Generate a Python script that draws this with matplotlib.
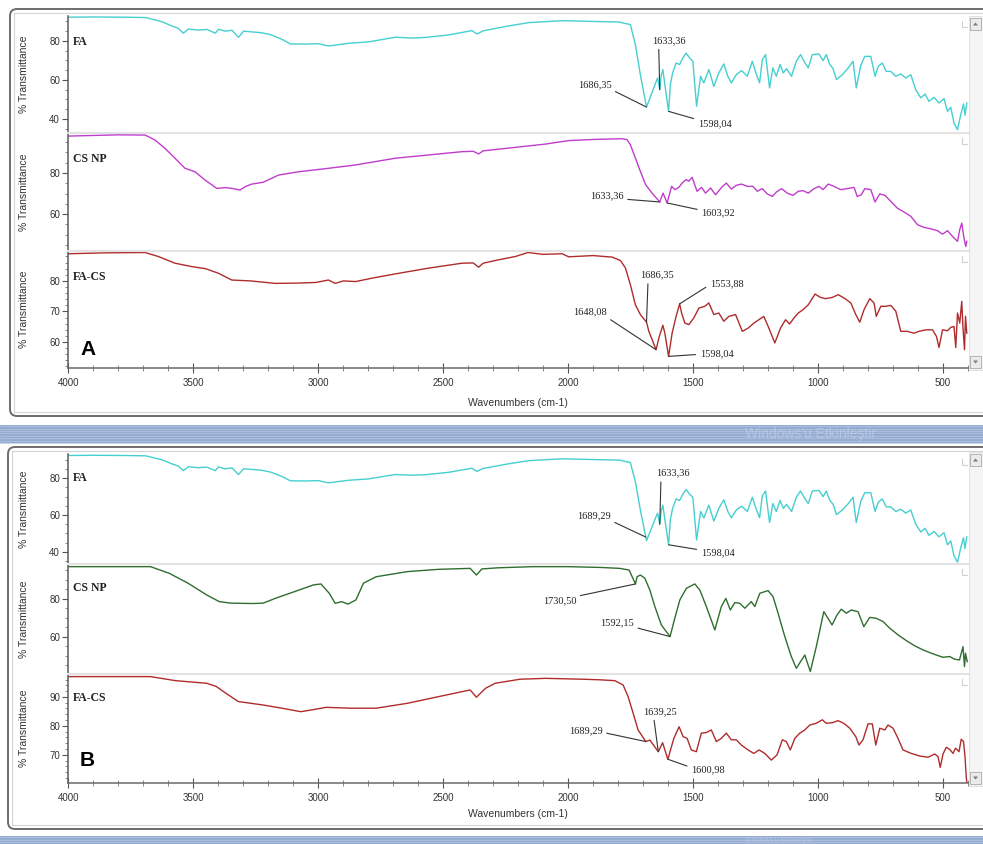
import numpy as np
import matplotlib.pyplot as plt
from matplotlib import font_manager
from matplotlib.patches import FancyBboxPatch, Rectangle, Polygon
from matplotlib.ticker import MultipleLocator, FixedLocator

# --- FTIR spectra: wavenumber (cm-1) vs % transmittance ---
# folic acid (same record used in both panels)
fa_wn = [4000, 3900, 3780, 3690, 3626, 3586, 3560, 3540, 3519, 3479,
         3445, 3412, 3399, 3372, 3345, 3319, 3299, 3260, 3226, 3190,
         3146, 3112, 3050, 3000, 2959, 2879, 2800, 2692, 2620, 2571,
         2478, 2385, 2365, 2340, 2238, 2158, 2024, 1900, 1797, 1751,
         1731, 1711, 1686.35, 1670, 1650, 1642, 1633.36, 1628, 1621, 1613,
         1598.04, 1591, 1582, 1568, 1554, 1541, 1528, 1514, 1501, 1486,
         1470, 1457, 1437, 1417, 1397, 1377, 1361, 1347, 1327, 1306,
         1283, 1263, 1250, 1234, 1223, 1210, 1194, 1181, 1167, 1152,
         1139, 1126, 1106, 1087, 1070, 1052, 1039, 1023, 996, 980,
         967, 954, 940, 926, 903, 879, 860, 847, 829, 813,
         789, 772, 759, 743, 727, 709, 689, 669, 649, 629,
         609, 589, 572, 556, 536, 516, 496, 482, 469, 456,
         442, 429, 418, 412, 405]
fa_t = [92.2, 92.3, 92.2, 92.0, 89.9, 87.7, 86.5, 84.0, 86.1, 85.6,
        85.9, 84.0, 86.0, 85.0, 85.5, 81.9, 85.0, 84.6, 84.2, 83.2,
        80.9, 78.5, 78.4, 78.6, 77.4, 78.8, 79.5, 81.9, 81.5, 81.8,
        83.1, 85.3, 83.6, 85.2, 87.7, 89.4, 90.4, 90.0, 89.7, 88.4,
        78.1, 62.7, 46.1, 51.6, 58.5, 61.0, 55.0, 61.9, 65.3, 57.6,
        43.9, 57.6, 63.6, 68.7, 67.9, 71.3, 73.8, 71.3, 69.6, 46.5,
        61.9, 58.5, 65.3, 56.7, 63.6, 68.2, 61.9, 58.5, 62.7, 64.8,
        61.9, 69.6, 64.1, 58.5, 70.4, 73.0, 55.9, 66.2, 61.9, 67.9,
        63.6, 65.8, 61.9, 69.6, 73.0, 68.7, 66.2, 73.0, 73.3, 69.9,
        73.0, 68.2, 65.8, 60.2, 62.7, 66.2, 69.6, 55.9, 67.5, 72.1,
        72.1, 61.9, 67.0, 68.7, 64.4, 64.4, 61.9, 63.1, 61.0, 62.7,
        55.0, 50.8, 52.8, 49.0, 51.1, 48.2, 50.4, 43.9, 46.0, 37.9,
        34.5, 42.2, 47.7, 41.9, 48.2]

# chitosan nanoparticles, panel A
csa_wn = [4000, 3900, 3800, 3693, 3653, 3613, 3573, 3533, 3493, 3453,
          3406, 3370, 3340, 3313, 3290, 3266, 3220, 3159, 3079, 2959,
          2852, 2692, 2558, 2425, 2380, 2358, 2340, 2211, 2091, 1998,
          1891, 1784, 1765, 1751, 1731, 1711, 1690, 1664, 1633.36, 1620,
          1603.92, 1586, 1573, 1557, 1544, 1528, 1517, 1504, 1484, 1466,
          1450, 1430, 1410, 1386, 1367, 1347, 1327, 1306, 1283, 1261,
          1243, 1223, 1203, 1183, 1167, 1146, 1123, 1100, 1079, 1060,
          1039, 1016, 996, 980, 959, 936, 910, 883, 856, 843,
          827, 813, 789, 772, 753, 732, 709, 683, 656, 629,
          602, 576, 549, 522, 502, 482, 462, 442, 433, 425,
          416, 409, 405]
csa_t = [98.0, 98.3, 98.6, 98.5, 96.1, 92.0, 87.2, 82.3, 80.6, 76.6,
         72.5, 72.9, 72.4, 71.7, 73.5, 74.6, 75.5, 79.0, 80.6, 82.3,
         83.9, 87.2, 88.8, 90.4, 90.6, 89.3, 90.8, 92.5, 94.1, 95.8,
         96.4, 96.7, 96.3, 93.8, 87.3, 80.8, 74.3, 70.2, 65.9, 70.2,
         65.4, 73.5, 71.9, 73.0, 75.1, 76.8, 76.0, 77.9, 71.1, 73.0,
         70.2, 72.7, 69.4, 73.0, 75.1, 72.2, 74.0, 74.6, 73.5, 73.5,
         71.1, 72.4, 69.8, 68.6, 70.7, 72.4, 70.2, 69.1, 71.1, 71.4,
         70.2, 72.4, 73.5, 71.9, 74.6, 73.5, 71.9, 72.4, 73.0, 68.6,
         69.4, 72.4, 71.9, 65.9, 69.8, 69.1, 66.2, 62.9, 61.0, 58.9,
         54.8, 53.5, 52.8, 51.9, 50.2, 51.9, 49.1, 46.7, 52.4, 55.6,
         48.3, 44.2, 46.7]

# folic acid loaded chitosan, panel A
faca_wn = [4000, 3850, 3693, 3640, 3573, 3506, 3450, 3399, 3346, 3270,
           3172, 3080, 3010, 2959, 2932, 2900, 2850, 2785, 2692, 2558,
           2425, 2380, 2358, 2340, 2291, 2211, 2161, 2100, 2024, 1998,
           1900, 1824, 1791, 1771, 1751, 1731, 1711, 1686.35, 1677, 1648.08,
           1637, 1621, 1613, 1598.04, 1584, 1568, 1553.88, 1546, 1533, 1517,
           1497, 1477, 1453, 1437, 1417, 1397, 1377, 1357, 1330, 1303,
           1279, 1257, 1237, 1217, 1197, 1173, 1150, 1130, 1114, 1096,
           1079, 1060, 1039, 1012, 990, 970, 943, 919, 892, 869,
           849, 833, 816, 793, 776, 767, 749, 729, 709, 689,
           669, 643, 616, 596, 569, 542, 526, 516, 502, 482,
           469, 456, 449, 442, 433, 425, 420, 414, 410, 405]
faca_t = [88.9, 89.2, 89.3, 88.0, 85.8, 84.7, 84.0, 82.5, 80.3, 80.0,
          79.2, 79.3, 79.5, 80.3, 79.2, 80.0, 79.8, 80.9, 82.3, 84.2,
          85.8, 85.9, 84.5, 85.8, 86.7, 88.0, 89.3, 88.7, 88.9, 87.9,
          88.3, 87.8, 86.7, 84.3, 78.8, 72.2, 69.0, 66.5, 63.5, 57.5,
          61.3, 65.5, 62.9, 55.3, 62.9, 68.4, 72.5, 69.5, 66.2, 65.7,
          67.9, 71.1, 71.7, 72.8, 69.0, 69.5, 66.8, 68.4, 69.0, 63.5,
          64.6, 66.2, 67.3, 68.4, 64.6, 59.7, 64.6, 67.3, 65.9, 67.9,
          69.5, 70.6, 72.2, 75.7, 74.6, 74.2, 74.6, 75.5, 74.2, 72.8,
          69.0, 66.5, 70.6, 74.2, 72.8, 68.4, 71.7, 71.7, 72.0, 70.1,
          63.5, 63.5, 62.9, 63.5, 64.0, 64.0, 61.8, 58.2, 64.0, 63.7,
          64.8, 65.1, 58.2, 69.5, 66.2, 73.3, 64.6, 57.5, 68.4, 62.9]

# chitosan nanoparticles, panel B
csb_wn = [4000, 3800, 3671, 3596, 3521, 3446, 3396, 3350, 3308, 3260,
          3220, 3170, 3094, 3019, 2989, 2956, 2932, 2906, 2881, 2849,
          2819, 2768, 2643, 2518, 2392, 2367, 2345, 2280, 2142, 2000,
          1873, 1793, 1756, 1730.50, 1724, 1711, 1693, 1673, 1653, 1627,
          1592.15, 1575, 1553, 1527, 1493, 1473, 1447, 1413, 1387, 1369,
          1351, 1333, 1313, 1293, 1267, 1253, 1233, 1200, 1180, 1160,
          1133, 1107, 1087, 1053, 1031, 1007, 977, 960, 944, 924,
          907, 887, 867, 840, 817, 793, 767, 740, 713, 680,
          647, 613, 580, 554, 527, 500, 473, 454, 434, 420,
          414, 410, 403]
csb_t = [97.0, 97.0, 97.0, 93.5, 88.3, 82.1, 78.6, 77.8, 77.7, 77.6,
         77.8, 80.4, 83.9, 87.4, 87.9, 83.0, 77.7, 78.6, 77.3, 79.5,
         88.3, 91.7, 94.4, 95.6, 96.1, 92.6, 95.8, 96.4, 97.0, 97.0,
         96.6, 96.1, 95.2, 87.9, 91.7, 92.6, 90.9, 84.7, 76.0, 66.3,
         60.2, 69.0, 79.5, 85.6, 87.9, 84.7, 76.0, 63.7, 76.0, 80.3,
         74.2, 78.1, 77.7, 75.1, 78.6, 76.0, 83.0, 84.4, 81.2, 72.5,
         60.2, 49.7, 43.5, 50.5, 41.8, 54.9, 73.3, 69.8, 66.3, 71.6,
         74.6, 72.5, 74.2, 73.3, 65.4, 70.3, 69.8, 68.1, 64.6, 61.1,
         58.1, 55.3, 53.2, 51.8, 50.5, 49.3, 49.7, 48.3, 47.9, 54.9,
         44.4, 51.4, 47.0]

# folic acid loaded chitosan, panel B
facb_wn = [4000, 3800, 3671, 3571, 3446, 3408, 3370, 3320, 3220, 3145,
           3070, 3020, 2969, 2869, 2768, 2643, 2518, 2392, 2367, 2330,
           2292, 2192, 2091, 1941, 1873, 1813, 1780, 1760, 1740, 1720,
           1689.29, 1673, 1639.25, 1622, 1600.98, 1577, 1556, 1540, 1524, 1507,
           1487, 1467, 1447, 1427, 1407, 1387, 1367, 1347, 1327, 1307,
           1280, 1257, 1236, 1213, 1187, 1164, 1143, 1127, 1111, 1093,
           1073, 1053, 1033, 1007, 983, 967, 943, 920, 897, 873,
           849, 836, 820, 800, 783, 769, 753, 733, 720, 700,
           680, 660, 627, 593, 560, 533, 520, 511, 500, 487,
           473, 460, 450, 436, 427, 418, 412, 407, 403]
facb_t = [97.0, 97.0, 97.0, 95.6, 94.7, 93.6, 91.3, 88.4, 87.2, 86.1,
          84.9, 85.6, 86.4, 86.1, 86.1, 87.8, 90.1, 92.4, 89.9, 93.0,
          94.7, 96.1, 96.4, 96.1, 95.9, 95.6, 94.1, 90.1, 84.4, 78.6,
          74.6, 75.1, 71.1, 74.2, 68.5, 75.7, 79.7, 76.3, 75.7, 71.7,
          71.1, 77.5, 77.7, 78.6, 74.6, 75.7, 77.5, 75.2, 75.2, 73.4,
          71.7, 70.5, 71.7, 70.5, 68.2, 70.0, 75.2, 74.6, 71.7, 75.7,
          77.5, 78.6, 80.3, 80.9, 82.1, 80.9, 81.1, 81.8, 80.9, 79.2,
          76.3, 73.4, 75.2, 80.7, 80.7, 73.4, 79.2, 78.6, 80.3, 79.2,
          75.7, 71.7, 70.5, 69.6, 69.2, 70.3, 69.4, 65.7, 70.3, 72.6,
          71.9, 70.5, 72.3, 71.1, 75.4, 74.6, 69.4, 62.5, 59.0]

# labelled band positions
peaks_fa_a = [1686.35, 1633.36, 1598.04]
peaks_csa = [1633.36, 1603.92]
peaks_faca = [1686.35, 1648.08, 1598.04, 1553.88]
peaks_fa_b = [1689.29, 1633.36, 1598.04]
peaks_csb = [1730.50, 1592.15]
peaks_facb = [1689.29, 1639.25, 1600.98]

# where each label sits relative to its band (pixels) and where its leader starts
lab_fa_a = [(-52, 22, (1, 0)), (9, 49, (0.2, 0)), (46, -12, (0, 0.9))]
lab_csa = [(-53, 6, (1, 0.15)), (51, -10, (0, 0.8))]
lab_faca = [(10, 47, (0.25, 0)), (-66, 38, (0.95, 0)), (48, 3, (0, 0.4)), (47, 20, (0, 0.4))]
lab_fa_b = [(-52, 21, (1, 0)), (13, 51, (0.15, 0)), (49, -8, (0, 0.8))]
lab_csb = [(-76, -17, (1, 1)), (-53, 14, (1, 0))]
lab_facb = [(-60, 11, (1, 0.3)), (2, 40, (0.3, 0)), (40, -11, (0, 0.8))]

installed = {f.name for f in font_manager.fontManager.ttflist}
SANS = 'Liberation Sans Narrow' if 'Liberation Sans Narrow' in installed else 'Liberation Sans'
SERIF = 'Liberation Serif'
plt.rcParams['font.family'] = SANS

W, H = 983, 844
X0, X1 = 68.3, 968.0

fig = plt.figure(figsize=(W / 100, H / 100), dpi=100, facecolor='white')

# screen background: two plot windows separated by a taskbar-like strip
bg = fig.add_axes([0, 0, 1, 1])
bg.set_xlim(0, W)
bg.set_ylim(H, 0)
bg.axis('off')


def window(left, top, bottom):
    bg.add_patch(FancyBboxPatch((left, top), W + 30 - left, bottom - top,
                                boxstyle='round,pad=0,rounding_size=7',
                                fc='white', ec='#6c6c6c', lw=1.4))
    bg.add_patch(Rectangle((left + 4, top + 4), W + 20, bottom - top - 8,
                           fill=False, ec='#d4d4d4', lw=0.8))


def strip(top, bottom):
    bg.add_patch(Rectangle((0, top), W, bottom - top, fc='#95acd2', ec='none'))
    for y in np.arange(top + 1.2, bottom, 2.4):
        bg.plot([0, W], [y, y], color='#b4c5e1', lw=0.5)


def scrollbar(top, bottom):
    bg.add_patch(Rectangle((968.5, top), 15, bottom - top, fc='#f5f5f5', ec='#dddddd', lw=0.6))
    for yb, up in ((top + 2, True), (bottom - 14, False)):
        bg.add_patch(Rectangle((970, yb), 11, 12, fc='#ebebeb', ec='#a9a9a9', lw=0.6))
        cx, cy = 975.5, yb + 6
        if up:
            tri = [(cx - 2.5, cy + 1.5), (cx + 2.5, cy + 1.5), (cx, cy - 1.5)]
        else:
            tri = [(cx - 2.5, cy - 1.5), (cx + 2.5, cy - 1.5), (cx, cy + 1.5)]
        bg.add_patch(Polygon(tri, closed=True, fc='#7a7a7a', ec='none'))


window(10, 9, 416)
strip(425, 443)
window(8, 447, 829)
strip(836, 844)
scrollbar(16, 370)
scrollbar(452, 786)
bg.text(745, 434, "Windows'u Etkinleştir", color='white', alpha=0.25,
        fontsize=10, va='center', family='Liberation Sans')
bg.text(745, 840, "Windows'u Etkinleştir", color='white', alpha=0.25,
        fontsize=5, va='center', family='Liberation Sans')


def add_row(top, bottom, wn, t, color, ylim, yticks, yminor, name, first, last):
    ax = fig.add_axes([X0 / W, 1 - bottom / H, (X1 - X0) / W, (bottom - top) / H])
    ax.set_facecolor('none')
    ax.plot(wn, t, color=color, lw=1.0)
    ax.set_xlim(4000, 400)
    ax.set_ylim(*ylim)
    ax.yaxis.set_major_locator(FixedLocator(yticks))
    ax.yaxis.set_minor_locator(MultipleLocator(yminor))
    ax.spines['right'].set_visible(False)
    ax.spines['top'].set_visible(not first)
    ax.spines['top'].set_color('#e3e3e3')
    ax.spines['top'].set_linewidth(1.5)
    ax.spines['left'].set_color('#5c5c5c')
    ax.spines['left'].set_linewidth(1.1)
    ax.tick_params(axis='y', which='major', length=4, width=0.8, color='#555555',
                   labelsize=7, pad=2, labelcolor='#333333')
    ax.tick_params(axis='y', which='minor', length=2, width=0.6, color='#777777')
    if last:
        ax.spines['bottom'].set_color('#6a6a6a')
        ax.spines['bottom'].set_linewidth(1.1)
        ax.xaxis.set_major_locator(MultipleLocator(500))
        ax.xaxis.set_minor_locator(MultipleLocator(100))
        ax.tick_params(axis='x', which='major', direction='inout', length=7, width=0.8,
                       color='#555555', labelsize=7, pad=4, labelcolor='#333333')
        ax.tick_params(axis='x', which='minor', direction='inout', length=4, width=0.6,
                       color='#777777')
        ax.set_xlabel('Wavenumbers (cm-1)', fontsize=7.5, color='#333333')
        ax.xaxis.set_label_coords(0.5, -(398 - 368) / 117)
    else:
        ax.spines['bottom'].set_visible(False)
        ax.tick_params(axis='x', which='both', bottom=False, labelbottom=False)
    ax.set_ylabel('% Transmittance', fontsize=7.5, color='#333333')
    ax.yaxis.label.set_va('center')
    ax.yaxis.set_label_coords((24 - X0) / (X1 - X0), 0.5)
    ax.text(0.005, 0.78, name, transform=ax.transAxes, family=SERIF, weight='bold',
            fontsize=8.5, va='center', ha='left', color='#222222')
    # small corner mark at the right end of each strip
    bg.plot([962, 962, 967], [top + 5, top + 11, top + 11], color='#d0d0d0', lw=0.8)
    return ax


def label_peaks(ax, wn, t, peaks, offsets):
    wn_up = np.array(wn, dtype=float)[::-1]
    t_up = np.array(t, dtype=float)[::-1]
    for p, (dx, dy, rp) in zip(peaks, offsets):
        ax.annotate(f'{p:.2f}'.replace('.', ','), xy=(p, np.interp(p, wn_up, t_up)),
                    xytext=(dx, dy), textcoords='offset pixels', ha='center', va='center',
                    family=SERIF, fontsize=7.5, color='#222222',
                    arrowprops=dict(arrowstyle='-', color='#333333', lw=0.8,
                                    shrinkA=1, shrinkB=0, relpos=rp))


# panel A
ax = add_row(16, 133, fa_wn, fa_t, '#45cfd0', (32.8, 92.8), [40, 60, 80], 5, 'FA', True, False)
label_peaks(ax, fa_wn, fa_t, peaks_fa_a, lab_fa_a)
ax = add_row(133, 251, csa_wn, csa_t, '#c03ccb', (42.0, 99.5), [60, 80], 5, 'CS NP', False, False)
label_peaks(ax, csa_wn, csa_t, peaks_csa, lab_csa)
ax = add_row(251, 368, faca_wn, faca_t, '#b02c2c', (51.5, 89.8), [60, 70, 80], 2, 'FA-CS', False, True)
label_peaks(ax, faca_wn, faca_t, peaks_faca, lab_faca)
ax.text(0.013, 0.155, 'A', transform=ax.transAxes, family='Liberation Sans', weight='bold',
        fontsize=15, va='center', ha='left', color='black')

# panel B
ax = add_row(454, 564, fa_wn, fa_t, '#45cfd0', (33.5, 93.0), [40, 60, 80], 5, 'FA', True, False)
label_peaks(ax, fa_wn, fa_t, peaks_fa_b, lab_fa_b)
ax = add_row(564, 674, csb_wn, csb_t, '#2f6e2f', (40.5, 98.4), [60, 80], 5, 'CS NP', False, False)
label_peaks(ax, csb_wn, csb_t, peaks_csb, lab_csb)
ax = add_row(674, 783, facb_wn, facb_t, '#b02c2c', (60.3, 97.9), [70, 80, 90], 2, 'FA-CS', False, True)
label_peaks(ax, facb_wn, facb_t, peaks_facb, lab_facb)
ax.xaxis.set_label_coords(0.5, -(809 - 783) / 109)
ax.text(0.013, 0.21, 'B', transform=ax.transAxes, family='Liberation Sans', weight='bold',
        fontsize=15, va='center', ha='left', color='black')

fig.savefig('out.png', dpi=100)
